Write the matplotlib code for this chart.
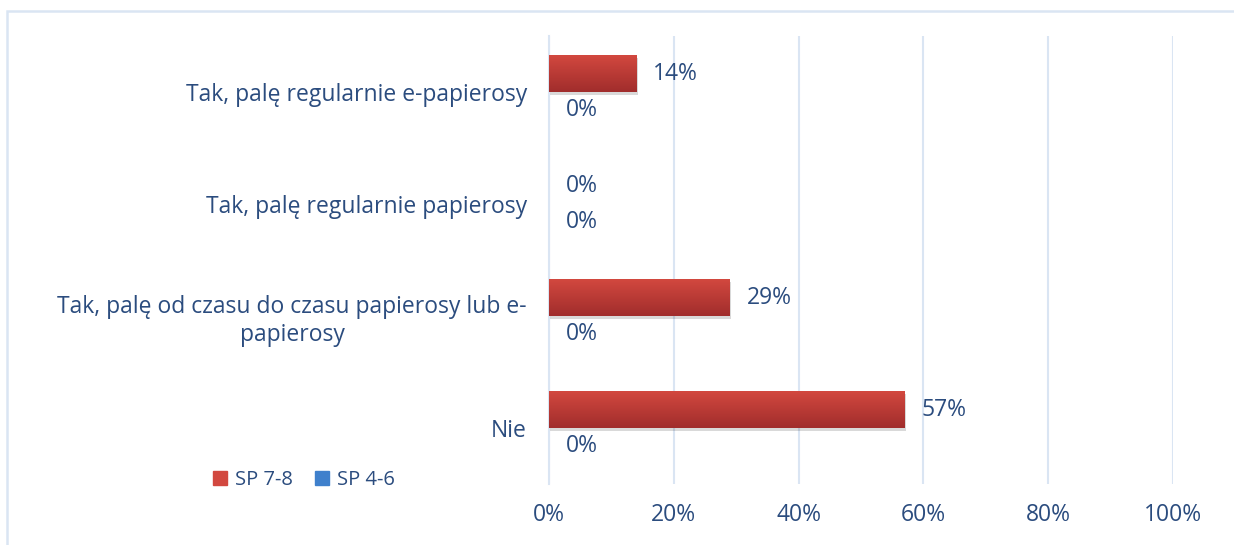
import numpy as np
import matplotlib
matplotlib.use("Agg")
import matplotlib.pyplot as plt
import matplotlib.patches as mpatches
import matplotlib.patheffects as pe
from matplotlib.colors import LinearSegmentedColormap

plt.rcParams['font.family'] = ['Open Sans', 'DejaVu Sans']

categories = [
    "Tak, palę regularnie e-papierosy",
    "Tak, palę regularnie papierosy",
    "Tak, palę od czasu do czasu papierosy lub e-\npapierosy",
    "Nie",
]
sp78 = [14, 0, 29, 57]
sp46 = [0, 0, 0, 0]
series_names = ["SP 7-8", "SP 4-6"]
xticks = [0, 20, 40, 60, 80, 100]

text_col = "#2b4c7e"
grid_col = "#dae5f3"
red_top, red_bot = "#d2483f", "#a12d2c"
blue_top, blue_bot = "#3f80cc", "#2a5a98"
fs = 16.5

fig = plt.figure(figsize=(12.34, 5.45), dpi=100)
ax = fig.add_axes([549 / 1234, 1 - 484 / 545, 624 / 1234, 448 / 545])

y = np.arange(len(categories))
h = 0.33


def gradient_bars(bars, c_top, c_bot):
    cmap = LinearSegmentedColormap.from_list("g", [c_bot, c_top])
    grad = np.linspace(0, 1, 64).reshape(-1, 1)
    for b in bars:
        w = b.get_width()
        if w <= 0:
            continue
        x0, y0 = b.get_x(), b.get_y()
        bh = b.get_height()
        b.set_facecolor("none")
        b.set_edgecolor("none")
        # y axis is inverted, so put the light colour at the visual top
        im = ax.imshow(grad, cmap=cmap, aspect="auto",
                       extent=(x0, x0 + w, y0, y0 + bh), origin="upper",
                       zorder=3, interpolation="bicubic")
        im.set_clip_path(b)
        shadow = mpatches.Rectangle((x0, y0), w, bh, facecolor="#000000",
                                    alpha=0.0, zorder=2.5)
        shadow.set_path_effects([pe.SimplePatchShadow(offset=(1.0, -2.0),
                                                      shadow_rgbFace="#000000",
                                                      alpha=0.15)])
        ax.add_patch(shadow)


bars_red = ax.barh(y - h / 2, sp78, height=h, color=red_top, zorder=3)
bars_blue = ax.barh(y + h / 2, sp46, height=h, color=blue_top, zorder=3)
gradient_bars(bars_red, red_top, red_bot)
gradient_bars(bars_blue, blue_top, blue_bot)

for vals, off in ((sp78, -h / 2), (sp46, h / 2)):
    for yi, v in zip(y, vals):
        ax.annotate(f"{v}%", (v, yi + off), xytext=(12, 0),
                    textcoords="offset points", ha="left", va="center",
                    fontsize=fs, color=text_col, zorder=5)

ax.set_xlim(0, 100)
ax.set_ylim(len(categories) - 0.5, -0.5)
ax.set_xticks(xticks)
ax.set_xticklabels([f"{t}%" for t in xticks])
ax.set_yticks(y)
ax.set_yticklabels(categories, multialignment="center")
ax.tick_params(axis="both", length=0, labelsize=fs, colors=text_col)
ax.tick_params(axis="x", pad=14)
ax.tick_params(axis="y", pad=16)
ax.xaxis.grid(True, color=grid_col, linewidth=1.5, zorder=0)
ax.set_axisbelow(True)
for s in ("top", "right", "bottom"):
    ax.spines[s].set_visible(False)
ax.spines["left"].set_color(grid_col)
ax.spines["left"].set_linewidth(1.5)

handles = [mpatches.Patch(color=red_top), mpatches.Patch(color=blue_top)]
leg = fig.legend(handles, series_names, loc="center left",
                 bbox_to_anchor=(195 / 1234, 1 - 480 / 545), ncol=2,
                 frameon=False, fontsize=14.5, handlelength=0.7,
                 handleheight=0.7, handletextpad=0.4, columnspacing=1.1,
                 labelcolor=text_col)

# light outer frame of the chart area
fig.patches.append(mpatches.Rectangle((7 / 1234, -0.05), 1.1, 1 - 11 / 545 + 0.05,
                                      transform=fig.transFigure, fill=False,
                                      edgecolor=grid_col, linewidth=1.8))

fig.savefig("out.png", dpi=100)
